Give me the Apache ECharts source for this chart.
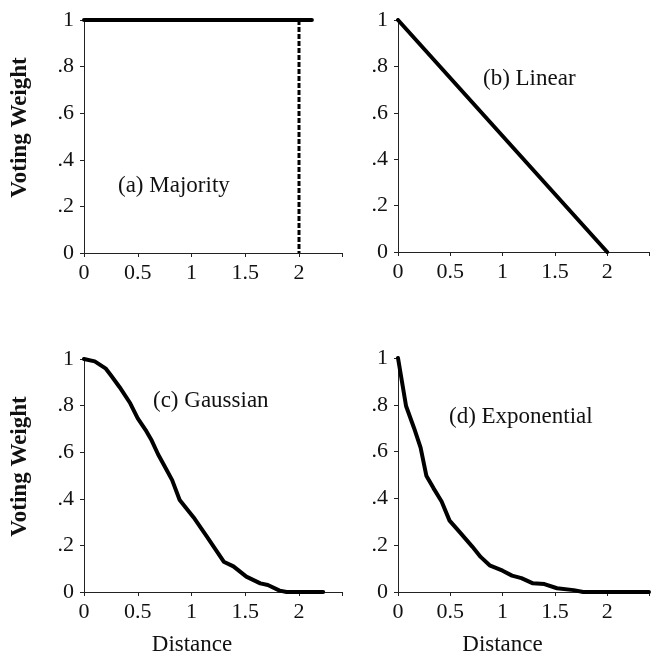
<!DOCTYPE html>
<html><head><meta charset="utf-8">
<script src="https://cdn.jsdelivr.net/npm/echarts@6/dist/echarts.min.js"></script>
<style>html,body{margin:0;padding:0;background:#fff}#c{width:652px;height:663px}</style>
</head><body><div id="c"></div>
<script>
// ---- data ----
const xTickLabels = {0:'0', 0.5:'0.5', 1:'1', 1.5:'1.5', 2:'2'};
const yTickLabels = {0:'0', 0.2:'.2', 0.4:'.4', 0.6:'.6', 0.8:'.8', 1:'1'};
const panelTitles = ['(a) Majority', '(b) Linear', '(c) Gaussian', '(d) Exponential'];

const majorityX = [0, 2.12];
const majorityY = [1, 1];
const majorityCutX = [2, 2];
const majorityCutY = [1, 0];

const linearX = [0, 2];
const linearY = [1, 0];

const gaussianX = [0, 0.1, 0.2, 0.25, 0.33, 0.43, 0.5, 0.58, 0.63, 0.69, 0.75, 0.82, 0.89, 1.02, 1.14, 1.3, 1.39, 1.51, 1.64, 1.71, 1.82, 1.885, 2.225];
const gaussianY = [1.0, 0.99, 0.96, 0.93, 0.88, 0.81, 0.745, 0.69, 0.65, 0.59, 0.54, 0.48, 0.395, 0.32, 0.24, 0.13, 0.11, 0.066, 0.037, 0.03, 0.006, 0, 0];

const exponentialX = [0, 0.077, 0.154, 0.216, 0.271, 0.339, 0.417, 0.493, 0.586, 0.71, 0.79, 0.876, 1.0, 1.09, 1.18, 1.29, 1.40, 1.52, 1.68, 1.77, 2.4];
const exponentialY = [1.0, 0.795, 0.70, 0.617, 0.497, 0.444, 0.387, 0.305, 0.258, 0.194, 0.15, 0.114, 0.091, 0.07, 0.059, 0.037, 0.034, 0.016, 0.008, 0, 0];

// ---- layout ----
const FONT = '"Liberation Serif", "DejaVu Serif", serif';
const INK = '#111';
const grids = [
  {left: 84, top: 20, width: 258, height: 233},
  {left: 398, top: 20, width: 259, height: 232},
  {left: 84, top: 359, width: 258, height: 233},
  {left: 398, top: 358, width: 259, height: 234}
];
const pairs = (xs, ys) => xs.map((x, i) => [x, ys[i]]);

const xAxes = [], yAxes = [];
for (let i = 0; i < 4; i++) {
  xAxes.push({
    type: 'value', gridIndex: i, min: 0, max: 2.4, interval: 0.5,
    splitLine: {show: false},
    axisLine: {show: true, onZero: false, lineStyle: {color: '#222', width: 1}},
    axisTick: {show: true, inside: false, length: 4, lineStyle: {color: '#222'}},
    axisLabel: {show: true, margin: 9, color: INK, fontFamily: FONT, fontSize: 22,
      formatter: v => (xTickLabels[v] !== undefined ? xTickLabels[v] : '')},
    name: i >= 2 ? 'Distance' : '', nameLocation: 'middle', nameGap: 41,
    nameTextStyle: {color: INK, fontFamily: FONT, fontSize: 23, padding: [0, 42, 0, 0]}
  });
  yAxes.push({
    type: 'value', gridIndex: i, min: 0, max: 1, interval: 0.2,
    splitLine: {show: false},
    axisLine: {show: true, onZero: false, lineStyle: {color: '#222', width: 1}},
    axisTick: {show: true, inside: false, length: 4, lineStyle: {color: '#222'}},
    axisLabel: {show: true, margin: 10, color: INK, fontFamily: FONT, fontSize: 22,
      formatter: v => { const k = Math.round(v * 10) / 10; return yTickLabels[k] !== undefined ? yTickLabels[k] : ''; }},
    name: (i === 0 || i === 2) ? 'Voting Weight' : '', nameLocation: 'middle', nameRotate: 90, nameGap: 52,
    nameTextStyle: {color: INK, fontFamily: FONT, fontSize: 23, fontWeight: 'bold', padding: [0, 0, 0, 18]}
  });
}
// inner half of the crossing ticks
for (let i = 0; i < 4; i++) {
  xAxes.push({type: 'value', gridIndex: i, min: 0, max: 2.4, interval: 0.5, splitLine: {show: false},
    axisLine: {show: false}, axisLabel: {show: false},
    axisTick: {show: true, inside: true, length: 4, lineStyle: {color: '#222'}}});
  yAxes.push({type: 'value', gridIndex: i, min: 0, max: 1, interval: 0.2, splitLine: {show: false},
    axisLine: {show: false}, axisLabel: {show: false},
    axisTick: {show: true, inside: true, length: 4, lineStyle: {color: '#222'}}});
}

const lineSeries = (gi, data, extra) => Object.assign({
  type: 'line', xAxisIndex: gi, yAxisIndex: gi, data: data, showSymbol: false, symbol: 'none',
  smooth: false, clip: true, animation: false,
  lineStyle: {color: '#000', width: 4, cap: 'round', join: 'round'}
}, extra || {});

const series = [
  lineSeries(0, pairs(majorityX, majorityY)),
  lineSeries(0, pairs(majorityCutX, majorityCutY), {lineStyle: {color: '#000', width: 3, type: [5, 2], cap: 'butt'}}),
  lineSeries(1, pairs(linearX, linearY)),
  lineSeries(2, pairs(gaussianX, gaussianY)),
  lineSeries(3, pairs(exponentialX, exponentialY))
];

const titlePos = [
  {left: 118, top: 187},
  {left: 483, top: 80},
  {left: 153, top: 402},
  {left: 449, top: 418}
];
const graphic = panelTitles.map((t, i) => ({
  type: 'text', left: titlePos[i].left, top: titlePos[i].top - 13,
  style: {text: t, fill: INK, font: '23px ' + FONT}
}));

const chart = echarts.init(document.getElementById('c'), null, {renderer: 'canvas'});
chart.setOption({
  backgroundColor: '#fff',
  animation: false,
  grid: grids.map(g => Object.assign({containLabel: false}, g)),
  xAxis: xAxes,
  yAxis: yAxes,
  series: series,
  graphic: graphic
});
</script></body></html>
